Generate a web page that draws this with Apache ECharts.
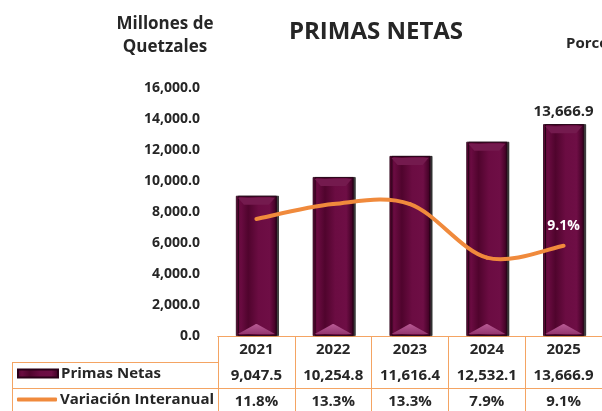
<!DOCTYPE html>
<html><head><meta charset="utf-8">
<script src="https://cdn.jsdelivr.net/npm/echarts@6/dist/echarts.min.js"></script>
<style>html,body{margin:0;padding:0;background:#fff}#c{width:602px;height:411px}</style>
</head><body><div id="c"></div>
<script>
const years = ['2021','2022','2023','2024','2025'];
const primas = [9047.5, 10254.8, 11616.4, 12532.1, 13666.9];
const variacion = [11.8, 13.3, 13.3, 7.9, 9.1];
const yTicks = {min: 0, max: 16000, interval: 2000};
const seriesNames = ['Primas Netas', 'Variación Interanual'];

const FONT = '"Open Sans", sans-serif';
const TXT = '#262626';
const ORANGE_GRID = '#f4a463';
const LINE_COLOR = '#f08a3c';
const fmt1 = v => Number(v).toLocaleString('en-US', {minimumFractionDigits: 1, maximumFractionDigits: 1});
const last = primas.length - 1;

const barGrad = new echarts.graphic.LinearGradient(0, 0, 1, 0, [
  {offset: 0, color: '#55052f'}, {offset: 0.12, color: '#6a0b41'},
  {offset: 0.3, color: '#50042d'}, {offset: 0.55, color: '#6b0c42'},
  {offset: 0.82, color: '#6e0e45'}, {offset: 0.95, color: '#48032a'},
  {offset: 1, color: '#1a0010'}]);

const chart = echarts.init(document.getElementById('c'), null, {renderer: 'canvas'});
const tableAxis = (offset, arr, f) => ({
  type: 'category', data: years, gridIndex: 0, position: 'bottom', offset: offset,
  axisLine: {show: true, lineStyle: {color: ORANGE_GRID, width: 1}},
  axisTick: {show: false},
  axisLabel: {show: true, interval: 0, margin: 6, color: TXT, fontFamily: FONT, fontWeight: 'bold', fontSize: 15,
    formatter: (v, i) => f(arr[i])}
});

// Smooth line drawn segment by segment through the library's coordinate system
function renderSmooth(params, api) {
  const i = params.dataIndex;
  const P = variacion.map((v, k) => api.coord([k, v]));
  const n = P.length;
  const children = [];
  if (i < n - 1) {
    const p0 = P[Math.max(i - 1, 0)], p1 = P[i], p2 = P[i + 1], p3 = P[Math.min(i + 2, n - 1)];
    const t = 1 / 6;
    const c1 = [p1[0] + (p2[0] - p0[0]) * t, p1[1] + (p2[1] - p0[1]) * t];
    const c2 = [p2[0] - (p3[0] - p1[0]) * t, p2[1] - (p3[1] - p1[1]) * t];
    children.push({type: 'bezierCurve',
      shape: {x1: p1[0], y1: p1[1], x2: p2[0], y2: p2[1], cpx1: c1[0], cpy1: c1[1], cpx2: c2[0], cpy2: c2[1]},
      style: {stroke: LINE_COLOR, lineWidth: 4, fill: null, lineCap: 'round'}});
  } else {
    children.push({type: 'text', x: P[i][0], y: P[i][1] - 20,
      style: {text: fmt1(variacion[i]) + '%', fill: '#ffffff', font: 'bold 14px ' + FONT, align: 'center', verticalAlign: 'middle'}});
  }
  return {type: 'group', children: children};
}

chart.setOption({
  animation: false,
  textStyle: {fontFamily: FONT},
  grid: {left: 218, right: -3, top: 88, bottom: 75, containLabel: false},
  title: [
    {text: 'PRIMAS NETAS', left: 376, top: 20, textAlign: 'center', padding: 0,
     textStyle: {fontFamily: FONT, fontWeight: 'bold', fontSize: 24, color: TXT}},
    {text: 'Millones de\nQuetzales', left: 165, top: 13, textAlign: 'center', padding: 0,
     textStyle: {fontFamily: FONT, fontWeight: 'bold', fontSize: 17, lineHeight: 23, color: TXT}},
    {text: 'Porcentaje', left: 566, top: 36, padding: 0,
     textStyle: {fontFamily: FONT, fontWeight: 'bold', fontSize: 15, color: TXT}}
  ],
  legend: [
    {data: [{name: seriesNames[0], icon: 'rect'}], left: 17, top: 366, itemWidth: 40, itemHeight: 8, itemGap: 0,
     padding: 0, textStyle: {fontFamily: FONT, fontWeight: 'bold', fontSize: 15, color: TXT, padding: [0, 0, 0, -2]}},
    {data: [{name: seriesNames[1], icon: 'roundRect', itemStyle: {color: LINE_COLOR}}], left: 17, top: 392, itemWidth: 40, itemHeight: 4, itemGap: 0,
     padding: 0, textStyle: {fontFamily: FONT, fontWeight: 'bold', fontSize: 15, color: TXT, padding: [0, 0, 0, -2]}}
  ],
  xAxis: [
    {type: 'category', data: years, position: 'bottom',
     axisLine: {show: true, lineStyle: {color: ORANGE_GRID, width: 1}},
     axisTick: {show: true, interval: 0, length: 76, lineStyle: {color: ORANGE_GRID, width: 1}},
     axisLabel: {interval: 0, margin: 6, color: TXT, fontFamily: FONT, fontWeight: 'bold', fontSize: 15}},
    tableAxis(26, primas, fmt1),
    tableAxis(52, variacion, v => fmt1(v) + '%')
  ],
  yAxis: [
    {type: 'value', min: yTicks.min, max: yTicks.max, interval: yTicks.interval,
     axisLine: {show: false}, axisTick: {show: false}, splitLine: {show: false},
     axisLabel: {margin: 18, color: TXT, fontFamily: FONT, fontWeight: 'bold', fontSize: 14, formatter: fmt1}},
    {type: 'value', min: 0, max: 25, show: false, splitLine: {show: false}}
  ],
  series: [
    {name: seriesNames[0], type: 'bar', barWidth: 41, z: 2,
     data: primas.map((v, i) => i === last ? {value: v, label: {show: true}} : v),
     itemStyle: {color: barGrad, borderColor: '#2a0018', borderWidth: 0.8,
       shadowColor: 'rgba(0,0,0,0.75)', shadowOffsetX: 2, shadowBlur: 0},
     label: {show: false, position: 'top', distance: 5, color: TXT, fontFamily: FONT, fontWeight: 'bold', fontSize: 15,
       formatter: p => fmt1(p.value)}},
    {name: 'bevelBottom', type: 'pictorialBar', data: primas, barGap: '-100%', barWidth: 41, z: 3,
     symbol: 'path://M0,10 L18,0 L19,0 L37,10 Z', symbolSize: [37, 10], symbolPosition: 'start', symbolOffset: [0, -2],
     itemStyle: {color: new echarts.graphic.LinearGradient(0, 0, 0, 1, [{offset: 0, color: '#b85a94'}, {offset: 1, color: '#94366f'}])},
     silent: true},
    {name: 'bevelTop', type: 'pictorialBar', data: primas, barGap: '-100%', barWidth: 41, z: 3,
     symbol: 'path://M0,0 L37,0 L31,7 L6,7 Z', symbolSize: [37, 7], symbolPosition: 'end', symbolOffset: [0, 2],
     itemStyle: {color: '#741a4e'}, silent: true},
    {name: seriesNames[1], type: 'custom', xAxisIndex: 0, yAxisIndex: 1, z: 5,
     itemStyle: {color: LINE_COLOR},
     data: variacion.map((v, i) => [i, v]),
     encode: {x: 0, y: 1},
     renderItem: renderSmooth}
  ],
  graphic: [
    {type: 'line', shape: {x1: 12, y1: 362.5, x2: 218, y2: 362.5}, style: {stroke: ORANGE_GRID, lineWidth: 1}, silent: true},
    {type: 'line', shape: {x1: 12, y1: 388.5, x2: 218, y2: 388.5}, style: {stroke: ORANGE_GRID, lineWidth: 1}, silent: true},
    {type: 'line', shape: {x1: 12.5, y1: 362, x2: 12.5, y2: 411}, style: {stroke: ORANGE_GRID, lineWidth: 1}, silent: true}
  ]
});
</script></body></html>
